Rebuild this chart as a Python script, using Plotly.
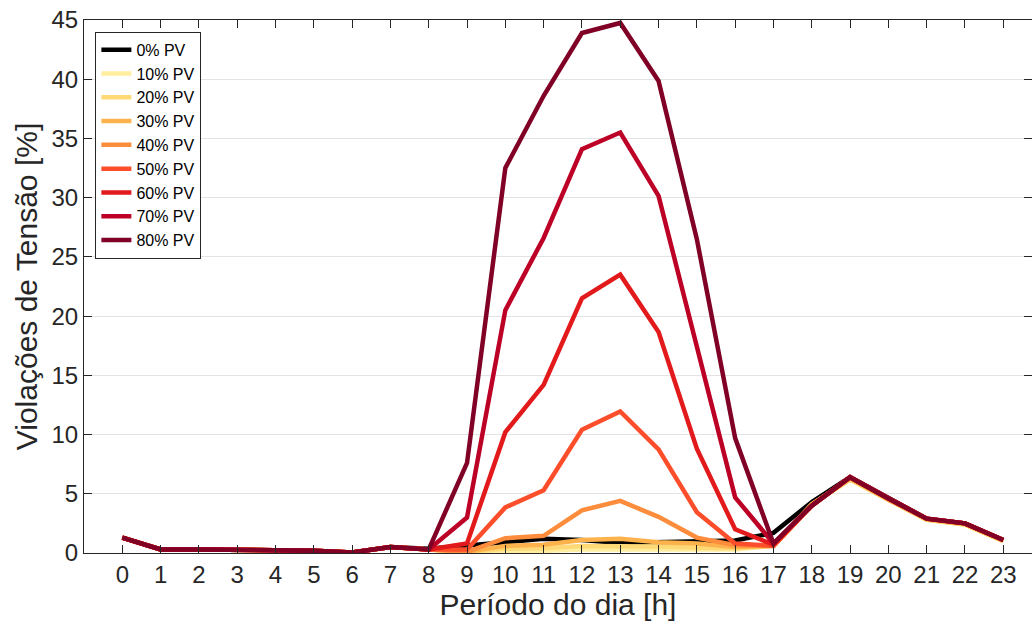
import plotly.graph_objects as go

hours = list(range(24))
labels = ["0% PV", "10% PV", "20% PV", "30% PV", "40% PV", "50% PV", "60% PV", "70% PV", "80% PV"]
colors = ["#000000", "#ffeda0", "#fed976", "#feb24c", "#fd8d3c", "#fc4e2a", "#e31a1c", "#bd0026", "#800026"]

early = [1.3, 0.3, 0.3, 0.25, 0.2, 0.2, 0.05, 0.5]
late = [6.4, 4.6, 2.9, 2.5, 1.1]

pv0 = early + [0.35, 0.6, 0.9, 1.2, 1.1, 0.85, 0.9, 0.95, 1.05, 1.7, 4.3] + late
pv10 = early + [0.3, 0.1, 0.2, 0.2, 0.3, 0.3, 0.3, 0.3, 0.3, 0.6, 4.1] + [6.2, 4.5, 2.8, 2.4, 1.0]
pv20 = early + [0.3, 0.1, 0.35, 0.4, 0.6, 0.6, 0.55, 0.45, 0.4, 0.6, 4.1] + [6.2, 4.5, 2.8, 2.4, 1.0]
pv30 = early + [0.3, 0.1, 0.6, 0.7, 1.1, 1.2, 0.9, 0.8, 0.5, 0.6, 4.1] + [6.3, 4.5, 2.85, 2.45, 1.05]
pv40 = early + [0.3, 0.1, 1.25, 1.45, 3.6, 4.4, 3.05, 1.3, 0.65, 0.6, 4.0] + late
pv50 = early + [0.3, 0.3, 3.85, 5.3, 10.4, 11.95, 8.75, 3.45, 0.8, 0.6, 4.0] + late
pv60 = early + [0.3, 0.8, 10.2, 14.2, 21.5, 23.5, 18.65, 8.8, 2.0, 0.7, 4.0] + late
pv70 = early + [0.3, 3.0, 20.5, 26.6, 34.1, 35.5, 30.15, 17.5, 4.7, 0.8, 4.0] + late
pv80 = early + [0.3, 7.6, 32.5, 38.6, 43.9, 44.75, 39.85, 26.5, 9.7, 0.8, 4.0] + late

series = [pv0, pv10, pv20, pv30, pv40, pv50, pv60, pv70, pv80]

fig = go.Figure()
for name, col, vals in zip(labels, colors, series):
    fig.add_trace(go.Scatter(x=hours, y=vals, mode="lines", name=name,
                             line=dict(color=col, width=4.5)))

font_family = "Liberation Sans, Arial, sans-serif"
fig.update_layout(
    width=1032, height=629,
    margin=dict(l=84, r=0, t=20, b=76),
    plot_bgcolor="white", paper_bgcolor="white",
    font=dict(family=font_family, color="#262626"),
    showlegend=True,
    legend=dict(x=0.012, y=0.978, xanchor="left", yanchor="top",
                bgcolor="white", bordercolor="#262626", borderwidth=1,
                font=dict(size=16, color="#000000"), tracegroupgap=0,
                itemwidth=30),
)
fig.update_xaxes(
    range=[-1, 23.75], tickmode="array", tickvals=hours, ticktext=[str(h) for h in hours],
    showgrid=False, zeroline=False,
    showline=True, linecolor="#262626", linewidth=1, mirror="ticks",
    ticks="inside", ticklen=8, tickcolor="#262626",
    tickfont=dict(size=24, color="#262626"),
    title=dict(text="Período do dia [h]", font=dict(size=30, color="#262626"), standoff=2),
)
fig.update_yaxes(
    range=[0, 45], tickmode="array", tickvals=list(range(0, 50, 5)),
    showgrid=True, gridcolor="#e3e3e3", gridwidth=1, zeroline=False,
    showline=True, linecolor="#262626", linewidth=1, mirror="ticks",
    ticks="inside", ticklen=8, tickcolor="#262626",
    tickfont=dict(size=24, color="#262626"),
    title=dict(text="Violações de Tensão [%]", font=dict(size=30, color="#262626"), standoff=4),
)

fig.write_html("out.html")
